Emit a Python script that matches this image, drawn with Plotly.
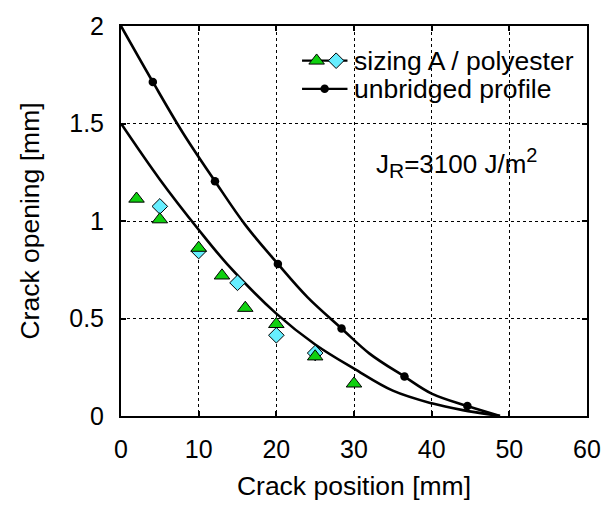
import plotly.graph_objects as go

# ---- data ----
tri_x = [2, 5, 10, 13, 16, 20, 25, 30]
tri_y = [1.114, 1.008, 0.862, 0.72, 0.554, 0.471, 0.305, 0.166]

dia_x = [5, 10, 15, 20, 25]
dia_y = [1.075, 0.846, 0.683, 0.414, 0.323]

# unbridged profile (upper curve) and its marked points
up_x = [0, 4.1, 8, 12.1, 16, 20.2, 24, 28.4, 32, 36.5, 40, 44.6, 48.8]
up_y = [2.0, 1.713, 1.45, 1.204, 0.98, 0.78, 0.61, 0.449, 0.32, 0.202, 0.115, 0.051, 0.0]
dot_x = [4.1, 12.1, 20.2, 28.4, 36.5, 44.6]
dot_y = [1.713, 1.204, 0.78, 0.449, 0.202, 0.051]

# bridged fit (lower curve)
lo_x = [0, 5, 10, 13.7, 20, 25, 30, 35, 40, 44, 48.8]
lo_y = [1.5, 1.213, 0.955, 0.778, 0.525, 0.367, 0.243, 0.13, 0.065, 0.03, 0.0]

x_ticks = [0, 10, 20, 30, 40, 50, 60]
y_ticks = [0, 0.5, 1, 1.5, 2]
y_ticklabels = ["0", "0.5", "1", "1.5", "2"]

legend_names = ["sizing A / polyester", "unbridged profile"]
annot_text = ("J<sub><span style='font-size:21px'>R</span></sub>=3100 J/m"
              "<sup><span style='font-size:20px'>2</span></sup>")

# ---- styles ----
FONT = "Liberation Sans, Arial, Helvetica, sans-serif"
FS_TICK = 25
FS_TITLE = 26.5
FS_LEG = 26.5
GREEN = "#0fd00f"
CYAN = "#66eeff"

fig = go.Figure()

fig.add_trace(go.Scatter(x=up_x, y=up_y, mode="lines",
                         line=dict(color="black", width=2.6, shape="spline"),
                         showlegend=False, hoverinfo="skip"))
fig.add_trace(go.Scatter(x=lo_x, y=lo_y, mode="lines",
                         line=dict(color="black", width=2.6, shape="spline"),
                         showlegend=False, hoverinfo="skip"))
fig.add_trace(go.Scatter(x=dot_x, y=dot_y, mode="markers",
                         marker=dict(color="black", size=8.5, symbol="circle"),
                         showlegend=False))
fig.add_trace(go.Scatter(x=dia_x, y=dia_y, mode="markers",
                         marker=dict(color=CYAN, size=12, symbol="diamond",
                                     line=dict(color="black", width=1)),
                         showlegend=False))
fig.add_trace(go.Scatter(x=tri_x, y=tri_y, mode="markers",
                         marker=dict(color=GREEN, size=13.5, symbol="triangle-up",
                                     line=dict(color="black", width=1)),
                         showlegend=False))

# ---- hand-drawn legend on an overlay axis pair spanning the plot area ----
lx0, lx1 = 0.3885, 0.486
ly = [0.911, 0.839]
fig.add_trace(go.Scatter(x=[lx0, lx1], y=[ly[0], ly[0]], mode="lines",
                         line=dict(color="black", width=2.2), xaxis="x2", yaxis="y2",
                         showlegend=False, hoverinfo="skip"))
fig.add_trace(go.Scatter(x=[0.4198], y=[ly[0]], mode="markers", xaxis="x2", yaxis="y2",
                         marker=dict(color=GREEN, size=13.5, symbol="triangle-up",
                                     line=dict(color="black", width=1)),
                         showlegend=False, hoverinfo="skip"))
fig.add_trace(go.Scatter(x=[0.4617], y=[ly[0]], mode="markers", xaxis="x2", yaxis="y2",
                         marker=dict(color=CYAN, size=12, symbol="diamond",
                                     line=dict(color="black", width=1)),
                         showlegend=False, hoverinfo="skip"))
fig.add_trace(go.Scatter(x=[lx0, lx1], y=[ly[1], ly[1]], mode="lines",
                         line=dict(color="black", width=2.2), xaxis="x2", yaxis="y2",
                         showlegend=False, hoverinfo="skip"))
fig.add_trace(go.Scatter(x=[0.437], y=[ly[1]], mode="markers", xaxis="x2", yaxis="y2",
                         marker=dict(color="black", size=8.5, symbol="circle"),
                         showlegend=False, hoverinfo="skip"))
for name, yy in zip(legend_names, ly):
    fig.add_annotation(x=0.4965, y=yy, xref="x2", yref="y2", text=name,
                       showarrow=False, xanchor="left", yanchor="middle",
                       font=dict(family=FONT, size=FS_LEG, color="black"))

fig.add_annotation(x=32.6, y=1.30, xref="x", yref="y", text=annot_text,
                   showarrow=False, xanchor="left", yanchor="middle",
                   font=dict(family=FONT, size=26, color="black"))

axis_common = dict(showline=True, linecolor="black", linewidth=2, mirror="ticks",
                   ticks="inside", ticklen=5, tickcolor="black", tickwidth=1.5,
                   showgrid=True, gridcolor="black", griddash="dot", gridwidth=1,
                   zeroline=False,
                   tickfont=dict(family=FONT, size=FS_TICK, color="black"))

fig.update_layout(
    width=613, height=508,
    margin=dict(l=121, r=14, t=17, b=88.5),
    paper_bgcolor="white", plot_bgcolor="white",
    showlegend=False,
    font=dict(family=FONT, size=FS_TICK, color="black"),
    xaxis=dict(range=[0, 60], tickvals=x_ticks, ticktext=[str(v) for v in x_ticks],
               ticklabelstandoff=10,
               title=dict(text="Crack position [mm]", standoff=14,
                          font=dict(family=FONT, size=FS_TITLE, color="black")),
               **axis_common),
    yaxis=dict(range=[0, 2], tickvals=y_ticks, ticktext=y_ticklabels,
               ticklabelstandoff=10,
               title=dict(text="Crack opening [mm]", standoff=22,
                          font=dict(family=FONT, size=FS_TITLE, color="black")),
               **axis_common),
    xaxis2=dict(overlaying="x", range=[0, 1], visible=False, fixedrange=True),
    yaxis2=dict(overlaying="y", range=[0, 1], visible=False, fixedrange=True),
)

fig.write_html("out.html")
